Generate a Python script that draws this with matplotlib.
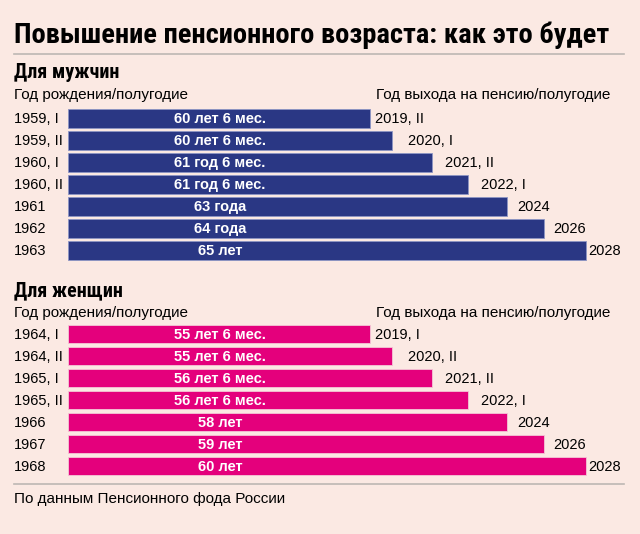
import matplotlib.pyplot as plt

# данные
title = "Повышение пенсионного возраста: как это будет"
source = "По данным Пенсионного фода России"
col_left = "Год рождения/полугодие"
col_right = "Год выхода на пенсию/полугодие"

men_birth = ["1959, I", "1959, II", "1960, I", "1960, II", "1961", "1962", "1963"]
men_age = ["60 лет 6 мес.", "60 лет 6 мес.", "61 год 6 мес.", "61 год 6 мес.",
           "63 года", "64 года", "65 лет"]
men_retire = ["2019, II", "2020, I", "2021, II", "2022, I", "2024", "2026", "2028"]

women_birth = ["1964, I", "1964, II", "1965, I", "1965, II", "1966", "1967", "1968"]
women_age = ["55 лет 6 мес.", "55 лет 6 мес.", "56 лет 6 мес.", "56 лет 6 мес.",
             "58 лет", "59 лет", "60 лет"]
women_retire = ["2019, I", "2020, II", "2021, II", "2022, I", "2024", "2026", "2028"]

# длина полосы (условные единицы)
bar_len = [302, 324, 364, 400, 439, 476, 518]

# оформление
BG = "#fbe9e3"
NAVY = "#2a3784"
PINK = "#e4007c"
NARROW = ["Roboto Condensed", "DejaVu Sans"]
SANS = ["Liberation Sans", "DejaVu Sans"]
label_pad = [5, 16, 13, 13, 10, 9, 2]

fig = plt.figure(figsize=(6.4, 5.34), dpi=100, facecolor=BG)
ax = fig.add_axes([0, 0, 1, 1])
ax.set_xlim(0, 640)
ax.set_ylim(534, 0)
ax.axis("off")

ax.text(14, 43, title, fontsize=20.5, fontweight="bold", family=NARROW, va="baseline")
ax.plot([14, 624], [54, 54], color="#bdb7b3", lw=1.2)


def block(y_head, y0, birth, age, retire, color, header):
    ax.text(14, y_head, header, fontsize=14.5, fontweight="bold", family=NARROW, va="baseline")
    ax.text(14, y_head + 21, col_left, fontsize=11, family=SANS, va="baseline")
    ax.text(376, y_head + 21, col_right, fontsize=11, family=SANS, va="baseline")
    ys = [y0 + 22 * i for i in range(len(birth))]
    ax.barh(ys, bar_len, left=68, height=18.5, color=color,
            edgecolor="#f3c7d6" if color == PINK else "#8d95c4", linewidth=0.6)
    for i, y in enumerate(ys):
        ax.text(14, y + 5, birth[i], fontsize=10.5, family=SANS, va="baseline")
        ax.text(220, y + 5, age[i], fontsize=10.5, fontweight="bold", family=SANS,
                color="white", ha="center", va="baseline")
        ax.text(68 + bar_len[i] + label_pad[i], y + 5, retire[i], fontsize=10.5,
                family=SANS, va="baseline")


block(78, 118.3, men_birth, men_age, men_retire, NAVY, "Для мужчин")
block(296, 333.8, women_birth, women_age, women_retire, PINK, "Для женщин")

ax.plot([14, 624], [484, 484], color="#bdb7b3", lw=1.2)
ax.text(14, 503, source, fontsize=11, family=SANS, va="baseline")

fig.savefig("out.png", dpi=100, facecolor=BG)
